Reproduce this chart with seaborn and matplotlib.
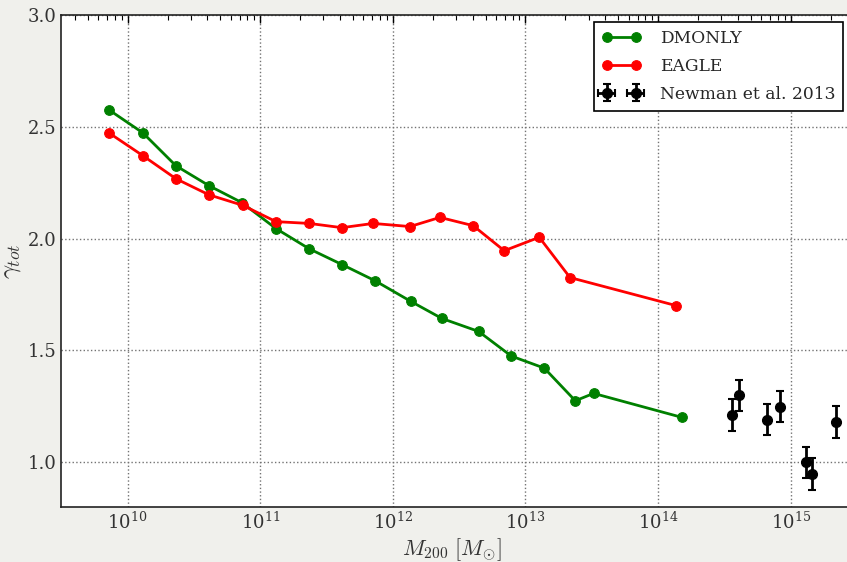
import numpy as np
import pandas as pd
import matplotlib
matplotlib.use("Agg")
import matplotlib.pyplot as plt
from matplotlib.ticker import NullFormatter, LogLocator
import seaborn as sns

# log10 of halo mass M200 [Msun] and total density slope
dmonly_logm = [9.859, 10.115, 10.364, 10.613, 10.862, 11.119, 11.368, 11.617,
               11.865, 12.137, 12.370, 12.647, 12.893, 13.142, 13.376, 13.514, 14.178]
dmonly_gamma = [2.576, 2.473, 2.326, 2.237, 2.161, 2.045, 1.955, 1.884,
                1.812, 1.719, 1.643, 1.585, 1.475, 1.421, 1.275, 1.308, 1.201]

eagle_logm = [9.859, 10.115, 10.364, 10.613, 10.868, 11.119, 11.370, 11.616,
              11.852, 12.129, 12.355, 12.606, 12.840, 13.104, 13.336, 14.133]
eagle_gamma = [2.473, 2.371, 2.268, 2.196, 2.149, 2.076, 2.068, 2.049,
               2.068, 2.054, 2.095, 2.058, 1.946, 2.006, 1.826, 1.701]

newman_logm = [14.560, 14.608, 14.819, 14.919, 15.118, 15.158, 15.339]
newman_gamma = [1.211, 1.299, 1.191, 1.249, 1.000, 0.948, 1.180]
newman_err = [0.07, 0.07, 0.07, 0.07, 0.07, 0.07, 0.07]

x_decades = [10, 11, 12, 13, 14, 15]
y_ticks = [1.0, 1.5, 2.0, 2.5, 3.0]

sns.set_style("white")
plt.rcParams["font.family"] = ["DejaVu Serif"]
plt.rcParams["mathtext.fontset"] = "cm"

bg = "#f0f0ec"
fig = plt.figure(figsize=(8.47, 5.62), dpi=100, facecolor=bg)
# axes runs slightly past the right edge of the canvas
ax = fig.add_axes([61.3 / 847, 55 / 562, 795.7 / 847, 492 / 562])
ax.set_facecolor("white")

dm = pd.DataFrame({"M200": np.power(10.0, dmonly_logm), "gamma": dmonly_gamma})
eg = pd.DataFrame({"M200": np.power(10.0, eagle_logm), "gamma": eagle_gamma})

sns.lineplot(data=dm, x="M200", y="gamma", ax=ax, color="green", lw=2,
             marker="o", markersize=7, markeredgecolor="green",
             label="DMONLY", sort=False, estimator=None)
sns.lineplot(data=eg, x="M200", y="gamma", ax=ax, color="red", lw=2,
             marker="o", markersize=7, markeredgecolor="red",
             label="EAGLE", sort=False, estimator=None)
ax.errorbar(np.power(10.0, newman_logm), newman_gamma, yerr=newman_err,
            xerr=np.zeros(len(newman_logm)), fmt="o", color="black",
            markersize=7, elinewidth=2, capsize=3, capthick=1.5,
            label="Newman et al. 2013", zorder=5)

ax.set_xscale("log")
ax.set_xlim(10 ** 9.5, 10 ** 15.5)
ax.set_ylim(0.8, 3.0)
ax.set_xticks([10.0 ** d for d in x_decades])
ax.set_xticklabels([rf"$\mathdefault{{10^{{{d}}}}}$" for d in x_decades])
ax.xaxis.set_minor_locator(LogLocator(base=10, subs=np.arange(2, 10)))
ax.xaxis.set_minor_formatter(NullFormatter())
ax.set_yticks(y_ticks)
ax.set_yticklabels([f"{v:.1f}" for v in y_ticks])

ax.grid(True, which="major", linestyle=":", color="0.45", lw=1)
ax.tick_params(which="both", direction="in", top=True, right=True,
               labelsize=13, colors="black")
ax.tick_params(axis="x", which="major", length=6, width=1)
ax.tick_params(axis="x", which="minor", length=3.5, width=0.8)
ax.tick_params(axis="y", which="major", length=6, width=1)
ax.tick_params(axis="y", which="minor", length=0)
for lab in ax.get_xticklabels() + ax.get_yticklabels():
    lab.set_color("#333333")
for s in ax.spines.values():
    s.set_color("#222222")
    s.set_linewidth(1.2)

ax.set_xlabel(r"$M_{200}\ [M_{\odot}]$", fontsize=16, color="#333333")
ax.xaxis.set_label_coords((452 - 61.3) / 795.7, -(536 - 507) / 492)
ax.set_ylabel(r"$\gamma_{tot}$", fontsize=18, color="#333333")
ax.yaxis.set_label_coords(-(61.3 - 23) / 795.7, 0.5)

leg = ax.legend(loc="upper right", bbox_to_anchor=(0.9824, 0.9858),
                borderaxespad=0, numpoints=2, fontsize=12.3, fancybox=False,
                framealpha=1, edgecolor="black", handlelength=2.3,
                labelspacing=0.65, borderpad=0.45, handletextpad=1.1)
leg.get_frame().set_linewidth(1.2)

fig.savefig("out.png", dpi=100, facecolor=bg)
